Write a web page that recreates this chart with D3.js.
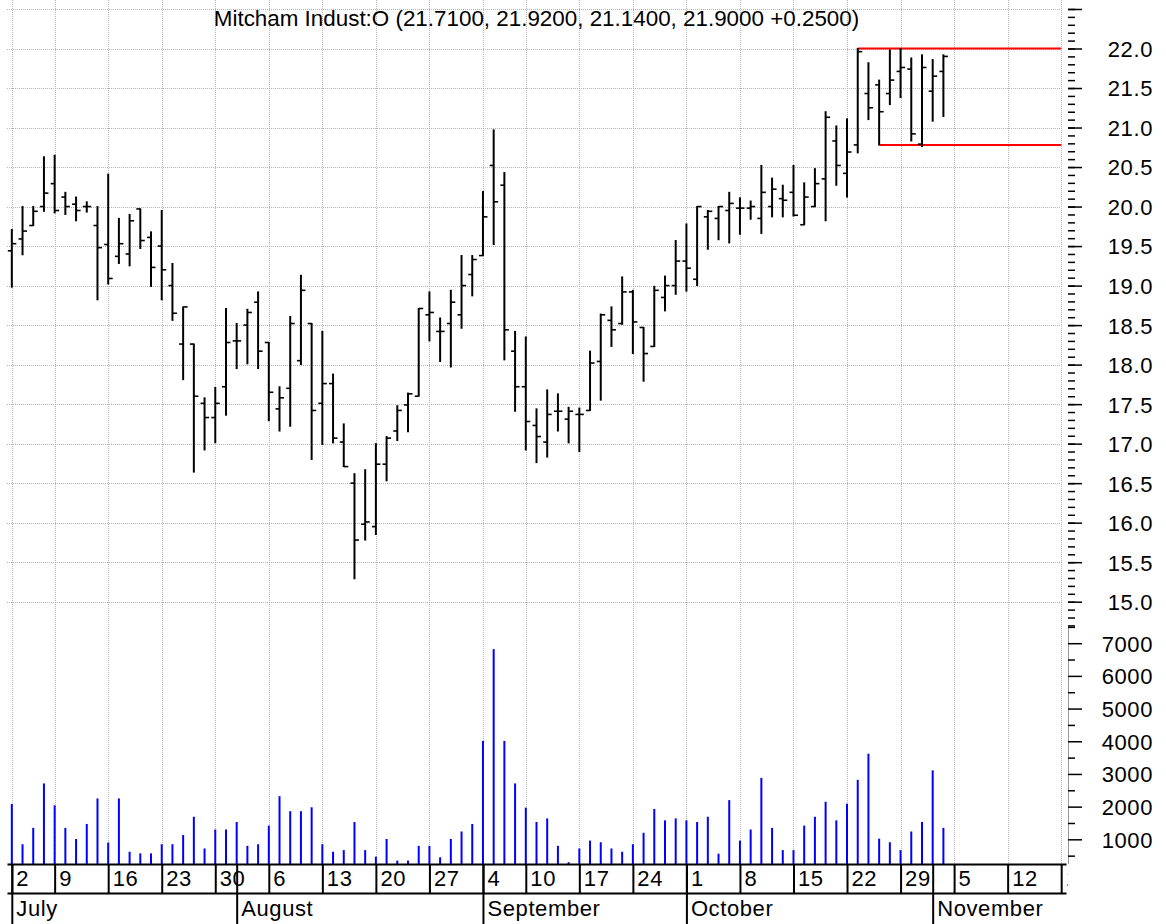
<!DOCTYPE html>
<html>
<head>
<meta charset="utf-8">
<script src="https://cdn.jsdelivr.net/npm/d3@7"></script>
<style>
  body { margin: 0; background: #fff; }
  text { font-family: "Liberation Sans", Arial, sans-serif; fill: #000; }
</style>
</head>
<body>
<script>
const ticker = "Mitcham Indust:O";

// trading days, Jul 2 - Nov 2 2007
const dates = [
  "2007-07-02", "2007-07-03", "2007-07-05", "2007-07-06",
  "2007-07-09", "2007-07-10", "2007-07-11", "2007-07-12", "2007-07-13",
  "2007-07-16", "2007-07-17", "2007-07-18", "2007-07-19", "2007-07-20",
  "2007-07-23", "2007-07-24", "2007-07-25", "2007-07-26", "2007-07-27",
  "2007-07-30", "2007-07-31", "2007-08-01", "2007-08-02", "2007-08-03",
  "2007-08-06", "2007-08-07", "2007-08-08", "2007-08-09", "2007-08-10",
  "2007-08-13", "2007-08-14", "2007-08-15", "2007-08-16", "2007-08-17",
  "2007-08-20", "2007-08-21", "2007-08-22", "2007-08-23", "2007-08-24",
  "2007-08-27", "2007-08-28", "2007-08-29", "2007-08-30", "2007-08-31",
  "2007-09-04", "2007-09-05", "2007-09-06", "2007-09-07",
  "2007-09-10", "2007-09-11", "2007-09-12", "2007-09-13", "2007-09-14",
  "2007-09-17", "2007-09-18", "2007-09-19", "2007-09-20", "2007-09-21",
  "2007-09-24", "2007-09-25", "2007-09-26", "2007-09-27", "2007-09-28",
  "2007-10-01", "2007-10-02", "2007-10-03", "2007-10-04", "2007-10-05",
  "2007-10-08", "2007-10-09", "2007-10-10", "2007-10-11", "2007-10-12",
  "2007-10-15", "2007-10-16", "2007-10-17", "2007-10-18", "2007-10-19",
  "2007-10-22", "2007-10-23", "2007-10-24", "2007-10-25", "2007-10-26",
  "2007-10-29", "2007-10-30", "2007-10-31", "2007-11-01", "2007-11-02"
];

const open = [
  19.44, 19.59, 19.76, 20.00, 20.29, 20.12, 20.03, 20.00, 19.76, 19.52,
  19.37, 19.40, 19.97, 19.61, 19.50, 19.00, 18.26, 18.26, 17.51, 17.33,
  17.72, 18.30, 18.50, 18.79, 18.28, 17.44, 17.70, 18.05, 18.52, 17.51,
  17.76, 17.02, 16.50, 15.98, 15.95, 16.74, 17.16, 17.49, 17.60, 18.63,
  18.42, 18.52, 18.63, 19.14, 19.38, 20.52, 20.27, 18.17, 17.72, 17.23,
  17.02, 17.41, 17.31, 17.37, 17.42, 18.04, 18.56, 18.52, 18.92, 18.47,
  18.23, 18.85, 19.00, 19.31, 19.08, 19.87, 19.85, 19.95, 19.98, 19.98,
  19.85, 20.00, 20.10, 20.18, 19.77, 20.00, 20.35, 20.83, 20.42, 20.78,
  21.43, 21.54, 21.43, 21.71, 21.74, 20.79, 21.46, 21.71
];
const high = [
  19.71, 20.00, 20.00, 20.63, 20.65, 20.18, 20.12, 20.06, 20.00, 20.41,
  19.85, 19.90, 19.97, 19.68, 19.95, 19.28, 18.73, 18.26, 17.58, 17.71,
  18.71, 18.52, 18.70, 18.92, 18.28, 17.72, 18.61, 19.13, 18.52, 18.42,
  17.88, 17.25, 16.62, 16.67, 17.00, 17.09, 17.48, 17.64, 18.71, 18.92,
  18.59, 18.94, 19.38, 19.38, 20.19, 20.97, 20.43, 18.42, 18.35, 17.44,
  17.68, 17.63, 17.46, 17.45, 18.17, 18.64, 18.73, 19.11, 18.94, 18.47,
  18.99, 19.12, 19.57, 19.78, 20.00, 19.95, 20.00, 20.18, 20.11, 20.07,
  20.52, 20.36, 20.27, 20.52, 20.30, 20.48, 21.20, 21.02, 21.11, 22.00,
  21.82, 21.60, 21.98, 22.00, 21.88, 21.92, 21.86, 21.92
];
const low = [
  18.98, 19.39, 19.76, 19.94, 19.92, 19.90, 19.82, 19.93, 18.82, 19.02,
  19.28, 19.25, 19.47, 18.99, 18.82, 18.56, 17.81, 16.64, 16.92, 17.01,
  17.36, 17.95, 18.01, 17.95, 17.29, 17.16, 17.22, 18.00, 16.80, 16.99,
  17.01, 16.71, 15.29, 15.78, 15.85, 16.53, 17.04, 17.15, 17.60, 18.30,
  18.04, 17.97, 18.46, 18.87, 19.38, 19.52, 18.06, 17.41, 16.92, 16.76,
  16.83, 17.16, 17.01, 16.90, 17.42, 17.55, 18.23, 18.51, 18.14, 17.79,
  18.23, 18.68, 18.89, 18.93, 19.00, 19.46, 19.58, 19.54, 19.65, 19.84,
  19.66, 19.87, 19.87, 19.88, 19.77, 20.00, 19.82, 20.27, 20.12, 20.68,
  21.10, 20.78, 21.29, 21.38, 20.83, 20.76, 21.08, 21.14
];
const close = [
  19.53, 19.69, 19.94, 20.17, 19.95, 20.00, 19.95, 20.00, 19.48, 19.09,
  19.53, 19.82, 19.57, 19.23, 19.20, 18.65, 18.73, 17.60, 17.33, 17.51,
  18.28, 18.30, 18.66, 18.17, 17.65, 17.58, 18.52, 18.94, 17.42, 17.76,
  17.07, 16.71, 15.78, 16.01, 16.74, 17.07, 17.42, 17.63, 18.71, 18.66,
  18.42, 18.79, 19.00, 19.33, 19.87, 20.06, 18.44, 17.72, 17.28, 17.09,
  17.37, 17.41, 17.41, 17.37, 18.02, 18.63, 18.44, 18.92, 18.54, 18.14,
  18.94, 19.00, 19.31, 19.22, 20.00, 19.94, 20.00, 20.04, 19.98, 20.00,
  20.18, 20.22, 20.08, 19.89, 20.12, 20.29, 21.13, 20.52, 20.69, 21.96,
  21.25, 21.20, 21.60, 21.76, 20.92, 21.76, 21.65, 21.90
];
const volume = [
  2080, 850, 1350, 2710, 2040, 1350, 1010, 1470, 2250, 900,
  2250, 620, 570, 570, 850, 850, 1130, 1690, 720, 1300,
  1300, 1530, 800, 850, 1420, 2320, 1860, 1860, 1980, 850,
  620, 670, 1530, 670, 470, 1010, 350, 350, 800, 800,
  450, 1010, 1240, 1470, 4010, 6820, 4010, 2710, 1970, 1530,
  1640, 800, 300, 720, 960, 910, 720, 620, 850, 1200,
  1930, 1580, 1640, 1580, 1530, 1690, 560, 2200, 960, 1300,
  2880, 1350, 670, 670, 1420, 1690, 2150, 1580, 2090, 2820,
  3620, 1020, 910, 670, 1240, 1530, 3110, 1350
];

// red horizontal levels drawn from a given day to the right edge
const levelPrices = [22.00, 20.78];
const levelStarts = ["2007-10-23", "2007-10-25"];

const weekTicks = [
  "2007-07-02", "2007-07-09", "2007-07-16", "2007-07-23", "2007-07-30",
  "2007-08-06", "2007-08-13", "2007-08-20", "2007-08-27", "2007-09-04",
  "2007-09-10", "2007-09-17", "2007-09-24", "2007-10-01", "2007-10-08",
  "2007-10-15", "2007-10-22", "2007-10-29", "2007-11-05", "2007-11-12",
  "2007-11-19"
];
const monthTicks = ["2007-07-02", "2007-08-01", "2007-09-04", "2007-10-01", "2007-11-01"];
const monthNames = ["July", "August", "September", "October", "November"];

const priceTicks = [15.0, 15.5, 16.0, 16.5, 17.0, 17.5, 18.0, 18.5, 19.0, 19.5, 20.0, 20.5, 21.0, 21.5, 22.0];
const volumeTicks = [1000, 2000, 3000, 4000, 5000, 6000, 7000];

const parseDay = d3.timeParse("%Y-%m-%d");
const fmtDay = d3.timeFormat("%Y-%m-%d");

// data days plus the empty weekdays that follow on the axis
function buildCalendar() {
  const last = parseDay(dates[dates.length - 1]);
  const extra = d3.timeDay.range(d3.timeDay.offset(last, 1), d3.timeDay.offset(last, 22))
    .filter(d => d.getDay() > 0 && d.getDay() < 6)
    .map(fmtDay);
  return dates.concat(extra);
}

function styleLabels(g, x, y, anchor) {
  g.selectAll(".tick text")
    .attr("x", x)
    .attr("y", y)
    .attr("dy", y === null ? "0.36em" : null)
    .attr("text-anchor", anchor)
    .style("font-size", "22px")
    .style("letter-spacing", "0.6px")
    .style("font-family", null);
}

function drawChart() {
  const w = 1166, h = 924;
  const left = 7, right = 1066;
  const axisX = 1068;
  const dayRowTop = 864, monthRowTop = 893, bottom = 924;

  const calendar = buildCalendar();
  const idx = s => calendar.indexOf(s);

  const svg = d3.select("body").append("svg")
    .attr("width", w)
    .attr("height", h);

  const x = d3.scaleLinear()
    .domain([-0.45, 98.45])
    .range([left, right]);

  const yPrice = d3.scaleLinear()
    .domain([15, 22])
    .range([601.7, 48.5]);

  const yVol = d3.scaleLinear()
    .domain([0, 7000])
    .range([872, 643.2]);

  const lastWeekX = x(idx(weekTicks[weekTicks.length - 1]));

  // grid
  const grid = svg.append("g")
    .attr("stroke", "#b4b4b4")
    .attr("stroke-dasharray", "1,1")
    .attr("shape-rendering", "crispEdges");

  grid.selectAll("line.h")
    .data(d3.range(15, 22.51, 0.5))
    .enter()
    .append("line")
    .attr("class", "h")
    .attr("x1", left)
    .attr("x2", lastWeekX)
    .attr("y1", d => Math.round(yPrice(d)) + 0.5)
    .attr("y2", d => Math.round(yPrice(d)) + 0.5);

  grid.selectAll("line.v")
    .data(weekTicks)
    .enter()
    .append("line")
    .attr("class", "v")
    .attr("x1", d => Math.round(x(idx(d))) + 0.5)
    .attr("x2", d => Math.round(x(idx(d))) + 0.5)
    .attr("y1", 0)
    .attr("y2", dayRowTop);

  // red levels
  svg.append("g").selectAll("line")
    .data(levelPrices)
    .enter()
    .append("line")
    .attr("x1", (d, i) => x(idx(levelStarts[i])))
    .attr("x2", lastWeekX)
    .attr("y1", d => yPrice(d))
    .attr("y2", d => yPrice(d))
    .attr("stroke", "#ff0000")
    .attr("stroke-width", 2);

  // volume bars
  svg.append("g").selectAll("line")
    .data(volume)
    .enter()
    .append("line")
    .attr("x1", (d, i) => x(i))
    .attr("x2", (d, i) => x(i))
    .attr("y1", dayRowTop)
    .attr("y2", d => Math.min(yVol(d), dayRowTop))
    .attr("stroke", "#0000ff")
    .attr("stroke-width", 2);

  // OHLC bars
  const bars = svg.append("g")
    .attr("stroke", "#000");
  const data = dates.map((d, i) => ({ i, o: open[i], h: high[i], l: low[i], c: close[i] }));

  bars.selectAll("line.hl")
    .data(data)
    .enter()
    .append("line")
    .attr("class", "hl")
    .attr("x1", d => x(d.i))
    .attr("x2", d => x(d.i))
    .attr("y1", d => yPrice(d.h) - 0.5)
    .attr("y2", d => yPrice(d.l) + 0.5)
    .attr("stroke-width", 2);

  bars.selectAll("line.o")
    .data(data)
    .enter()
    .append("line")
    .attr("class", "o")
    .attr("x1", d => x(d.i) - 4)
    .attr("x2", d => x(d.i))
    .attr("y1", d => yPrice(d.o))
    .attr("y2", d => yPrice(d.o))
    .attr("stroke-width", 1.6);

  bars.selectAll("line.c")
    .data(data)
    .enter()
    .append("line")
    .attr("class", "c")
    .attr("x1", d => x(d.i))
    .attr("x2", d => x(d.i) + 4.5)
    .attr("y1", d => yPrice(d.c))
    .attr("y2", d => yPrice(d.c))
    .attr("stroke-width", 1.6);

  // title from the last bar
  const n = dates.length - 1;
  const f4 = d3.format(".4f");
  const change = close[n] - close[n - 1];
  svg.append("text")
    .attr("x", (left + right) / 2)
    .attr("y", 26)
    .attr("text-anchor", "middle")
    .style("font-size", "22.4px")
    .text(`${ticker} (${f4(open[n])}, ${f4(high[n])}, ${f4(low[n])}, ${f4(close[n])} ${change >= 0 ? "+" : ""}${f4(change)})`);

  // price axis: minor then major ticks
  svg.append("g")
    .attr("transform", `translate(${axisX},0)`)
    .call(d3.axisRight(yPrice).tickValues(d3.range(14.7, 22.55, 0.1)).tickSize(7).tickFormat(""))
    .call(g => g.select(".domain").remove())
    .call(g => g.selectAll(".tick line").attr("stroke-width", 1.5));

  svg.append("g")
    .attr("transform", `translate(${axisX},0)`)
    .call(d3.axisRight(yPrice).tickValues(priceTicks.concat([22.5])).tickSize(14).tickFormat(d3.format(".1f")))
    .call(g => g.select(".domain").remove())
    .call(g => g.selectAll(".tick line").attr("stroke-width", 1.5))
    .call(g => styleLabels(g, 85, null, "end"))
    .call(g => g.selectAll(".tick text").text(d => d > 22.1 ? "" : d3.format(".1f")(d)));

  // volume axis
  svg.append("line")
    .attr("x1", axisX + 0.5)
    .attr("x2", axisX + 0.5)
    .attr("y1", 627)
    .attr("y2", dayRowTop)
    .attr("stroke", "#999");

  svg.append("g")
    .attr("transform", `translate(${axisX},0)`)
    .call(d3.axisRight(yVol).tickValues(d3.range(500, 7501, 1000)).tickSize(7).tickFormat(""))
    .call(g => g.select(".domain").remove())
    .call(g => g.selectAll(".tick line").attr("stroke-width", 1.5));

  svg.append("g")
    .attr("transform", `translate(${axisX},0)`)
    .call(d3.axisRight(yVol).tickValues(volumeTicks).tickSize(14).tickFormat(d => d))
    .call(g => g.select(".domain").remove())
    .call(g => g.selectAll(".tick line").attr("stroke-width", 1.5))
    .call(g => styleLabels(g, 85, null, "end"));

  // date axis: week row and month row
  svg.append("clipPath")
    .attr("id", "axis-clip")
    .append("rect")
    .attr("x", 0)
    .attr("y", dayRowTop - 2)
    .attr("width", right + 2)
    .attr("height", bottom - dayRowTop + 2);

  svg.append("g")
    .attr("clip-path", "url(#axis-clip)")
    .append("g")
    .attr("transform", `translate(0,${dayRowTop})`)
    .call(d3.axisBottom(x)
      .tickValues(weekTicks.map(idx))
      .tickSize(monthRowTop - dayRowTop)
      .tickSizeOuter(0)
      .tickFormat((d, i) => String(parseDay(weekTicks[i]).getDate())))
    .call(g => g.select(".domain").attr("stroke-width", 2))
    .call(g => g.selectAll(".tick line").attr("stroke-width", 2))
    .call(g => styleLabels(g, 4, 21.5, "start"));

  svg.append("g")
    .attr("transform", `translate(0,${monthRowTop})`)
    .call(d3.axisBottom(x)
      .tickValues(monthTicks.map(idx))
      .tickSizeOuter(0)
      .tickFormat((d, i) => monthNames[i]))
    .call(g => g.select(".domain").attr("stroke-width", 2))
    .call(g => g.selectAll(".tick line")
      .attr("y1", dayRowTop - monthRowTop)
      .attr("y2", bottom - monthRowTop)
      .attr("stroke-width", 2))
    .call(g => styleLabels(g, 4, 22.5, "start"));
}

window.onload = drawChart;
</script>
</body>
</html>
